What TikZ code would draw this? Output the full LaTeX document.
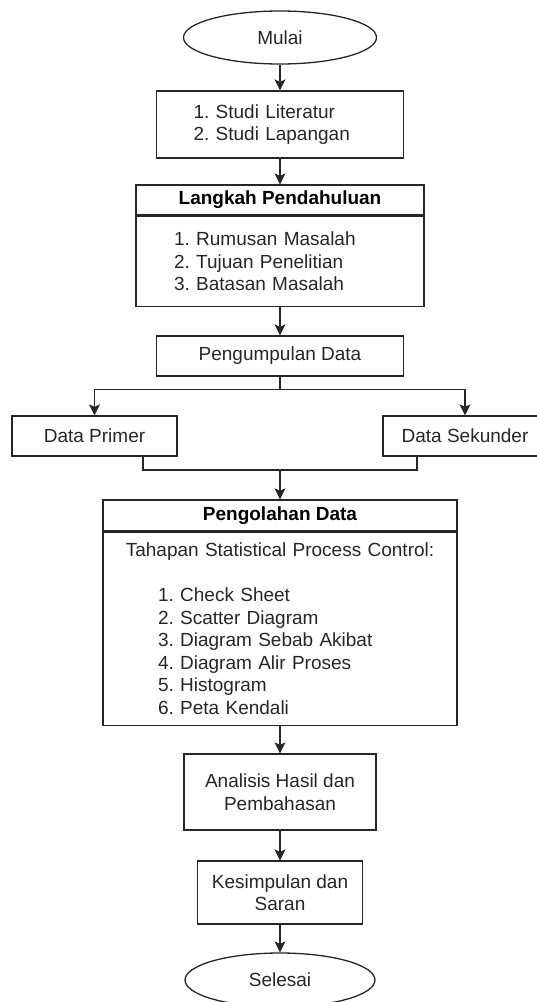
\documentclass[tikz,border=0pt]{standalone}
\usepackage{fontspec}
\setmainfont{Liberation Sans}
\usetikzlibrary{arrows.meta, positioning, calc, shapes.geometric}
\definecolor{linegray}{RGB}{38,38,38}
\frenchspacing

\tikzset{
  base/.style={draw=linegray, line width=1.3pt, inner sep=0pt, text=linegray,
    font=\fontsize{19}{22.5}\selectfont},
  box/.style={base, rectangle, align=center},
  listbox/.style={base, rectangle, align=left},
  headbox/.style={base, rectangle, text=black, font=\fontsize{19}{22.5}\selectfont\bfseries},
  terminal/.style={base, ellipse},
  arr/.style={draw=linegray, line width=1.3pt, -{Stealth[length=11pt, width=11pt, inset=2.5pt]}},
  link/.style={draw=linegray, line width=1.3pt}
}

\begin{document}
\begin{tikzpicture}[x=1pt, y=1pt]
  \useasboundingbox (0,0) rectangle (537,-1002);
  \clip (0,0) rectangle (537,-1002);

  % Start
  \node[terminal, minimum width=193pt, minimum height=53pt] (mulai) at (280,-37.5) {Mulai};

  % Studi
  \node[listbox, text width=173pt, inner xsep=37pt, minimum height=67pt] (studi) at (280,-124.5)
    {1. Studi Literatur\\2. Studi Lapangan};

  % Langkah Pendahuluan
  \node[headbox, minimum width=288pt, minimum height=30pt] (lhead) at (280,-200) {Langkah Pendahuluan};
  \node[listbox, text width=212pt, inner xsep=38pt, minimum height=90pt, anchor=north] (lbody) at (lhead.south)
    {1. Rumusan Masalah\\2. Tujuan Penelitian\\3. Batasan Masalah};

  % Pengumpulan Data
  \node[box, minimum width=247pt, minimum height=40pt] (kumpul) at (280,-356) {Pengumpulan Data};
  \node[box, minimum width=165pt, minimum height=40pt] (primer) at (94.5,-436) {Data Primer};
  \node[box, minimum width=164pt, minimum height=40pt] (sekunder) at (465,-436) {Data Sekunder};

  % Pengolahan Data
  \node[headbox, minimum width=354pt, minimum height=31pt] (ohead) at (280,-515.5) {Pengolahan Data};
  \node[listbox, text width=244pt, inner xsep=55pt, minimum height=193pt, anchor=north] (obody) at (ohead.south)
    {\makebox[\linewidth]{Tahapan Statistical Process Control:}\\[22.5pt]
     1. Check Sheet\\2. Scatter Diagram\\3. Diagram Sebab Akibat\\
     4. Diagram Alir Proses\\5. Histogram\\6. Peta Kendali};

  % Analisis dan kesimpulan
  \node[box, minimum width=192pt, minimum height=76pt] (analisis) at (280,-792)
    {Analisis Hasil dan\\Pembahasan};
  \node[box, minimum width=165pt, minimum height=63pt] (simpul) at (280,-892.5)
    {Kesimpulan dan\\Saran};

  % End
  \node[terminal, minimum width=190pt, minimum height=54pt] (selesai) at (280,-980) {Selesai};

  % Connectors
  \draw[arr] (mulai.south) -- (studi.north);
  \draw[arr] (studi.south) -- (lhead.north);
  \draw[arr] (lbody.south) -- (kumpul.north);
  \draw[arr] (kumpul.south) -- ++(0,-13) -| (primer.north);
  \draw[arr] (kumpul.south) -- ++(0,-13) -| (sekunder.north);

  \coordinate (pout) at ($(primer.south)+(48.5,0)$);
  \coordinate (sout) at ($(sekunder.south)+(-48,0)$);
  \coordinate (mrg) at (280,-470);
  \draw[link] (pout) |- (mrg);
  \draw[link] (sout) |- (mrg);
  \draw[arr] (mrg) -- (ohead.north);

  \draw[arr] (obody.south) -- (analisis.north);
  \draw[arr] (analisis.south) -- (simpul.north);
  \draw[arr] (simpul.south) -- (selesai.north);
\end{tikzpicture}
\end{document}
